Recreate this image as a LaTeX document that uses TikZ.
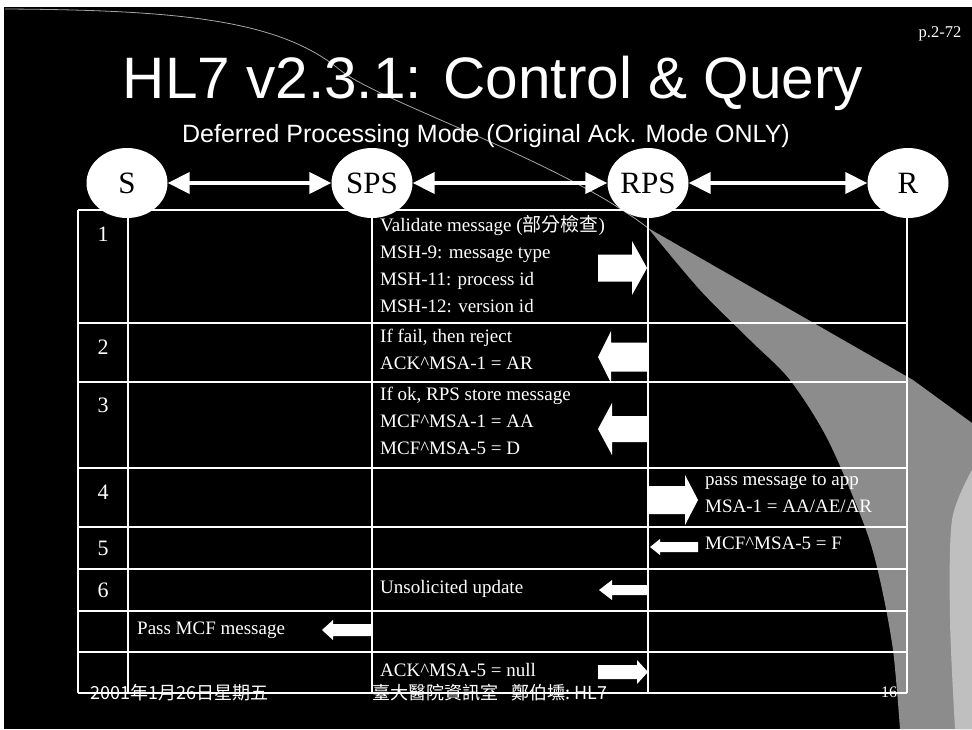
\documentclass[tikz,border=0pt]{standalone}
\usepackage{fontspec}
\setmainfont{Liberation Serif}
\newfontfamily\headfont{Liberation Sans}
\newfontfamily\cjk{Noto Sans CJK TC}
\usepackage{tikz}
\usetikzlibrary{arrows.meta, shapes.geometric}

\tikzset{
  party/.style={ellipse, fill=white, minimum width=81pt, minimum height=70pt,
    inner sep=0pt, font=\fontsize{31}{31}\selectfont},
  link/.style={white, line width=4pt,
    {Triangle[length=22pt,width=21pt]}-{Triangle[length=22pt,width=21pt]}},
  grid/.style={white, line width=1.6pt},
  num/.style={white, font=\fontsize{22}{22}\selectfont},
  msg/.style={anchor=north west, inner sep=0pt, text=white, align=left,
    font=\fontsize{19}{27}\selectfont, execute at begin node=\strut},
  foot/.style={anchor=west, inner sep=0pt, text=white, font=\cjk\fontsize{18}{18}\selectfont},
}
% tail, head base, tip, mid y, shaft half, head half
\newcommand{\blockarrow}[6]{%
  \fill[white] (#1,#4-#5) -- (#2,#4-#5) -- (#2,#4-#6) -- (#3,#4)
    -- (#2,#4+#6) -- (#2,#4+#5) -- (#1,#4+#5) -- cycle;
}

\begin{document}
\begin{tikzpicture}[x=1pt, y=-1pt]
    \useasboundingbox (0,0) rectangle (972,729);
    % Slide
    \fill[white] (0,0) rectangle (972,729);
    \fill[black] (4,7) rectangle (972,729);
    \draw[gray!70, line width=0.8pt] (5,9) .. controls (180,10) and (280,20) .. (340,70)
        .. controls (380,102) and (560,160) .. (648,228);
    \fill[black!45] plot[smooth] coordinates {(648,228) (700,290) (750,340) (790,380) (828,440) (865,527) (880,580) (893,650) (900,729)}
        -- (972,729) -- (972,423) -- (913,380) -- cycle;
    \fill[black!25] plot[smooth] coordinates {(972,470) (952,520) (950,620) (955,729)} -- (972,729) -- cycle;

    % Titles
    \node[text=white, font=\headfont\fontsize{58.5}{58.5}\selectfont, anchor=base] (title) at (493,98) {HL7 v2.3.1: Control \& Query};
    \node[text=white, font=\headfont\fontsize{25}{25}\selectfont, anchor=base] (subtitle) at (486,142) {Deferred Processing Mode (Original Ack. Mode ONLY)};
    \node[text=white, font=\fontsize{16.5}{16.5}\selectfont, anchor=base] (page) at (940,37) {p.2-72};

    % Table
    \foreach \y in {210,323,382,468,527,569,611,652,693}
        \draw[grid] (78,\y) -- (907,\y);
    \foreach \x in {78,128,372,648,907}
        \draw[grid] (\x,210) -- (\x,693);

    % Parties
    \node[party] (S) at (127,183) {S};
    \node[party] (SPS) at (372,183) {SPS};
    \node[party] (RPS) at (648,183) {RPS};
    \node[party] (R) at (908,183) {R};
    \draw[link] (S) -- (SPS);
    \draw[link] (SPS) -- (RPS);
    \draw[link] (RPS) -- (R);

    % Steps
    \foreach \n/\y in {1/234,2/347,3/405,4/492,5/548,6/590}
        \node[num] (step\n) at (103,\y) {\n};

    \node[msg] (m1) at (380,215.4) {Validate message ({\cjk 部分檢查})\\MSH-9: message type\\MSH-11: process id\\MSH-12: version id};
    \node[msg] (m2) at (380,329.4) {If fail, then reject\\ACK\textasciicircum MSA-1 = AR};
    \node[msg] (m3) at (380,387.4) {If ok, RPS store message\\MCF\textasciicircum MSA-1 = AA\\MCF\textasciicircum MSA-5 = D};
    \node[msg] (m4) at (705,474.4) {pass message to app\\MSA-1 = AA/AE/AR};
    \node[msg] (m5) at (705,530.4) {MCF\textasciicircum MSA-5 = F};
    \node[msg] (m6) at (380,574.4) {Unsolicited update};
    \node[msg] (m7) at (137,615.4) {Pass MCF message};
    \node[msg] (m8) at (380,657.4) {ACK\textasciicircum MSA-5 = null};

    % Block arrows
    \blockarrow{598}{632}{647}{268}{13.5}{27}
    \blockarrow{647}{611}{598}{357}{14.5}{26}
    \blockarrow{648}{612}{598}{429}{13}{26}
    \blockarrow{648}{685}{698}{500}{14}{25}
    \blockarrow{698}{660}{650}{547}{5}{8}
    \blockarrow{648}{612}{599}{590}{5}{10}
    \blockarrow{372}{333}{322}{630}{6}{10}
    \blockarrow{598}{637}{648}{672}{7}{12}

    % Footer
    \node[foot] (date) at (90,693) {2001年1月26日星期五};
    \node[foot] (dept) at (372,693) {臺大醫院資訊室\hspace{13pt}鄭伯壎:\hspace{4pt}HL7};
    \node[text=white, font=\fontsize{16}{16}\selectfont] (slide) at (889,692) {16};
\end{tikzpicture}
\end{document}
